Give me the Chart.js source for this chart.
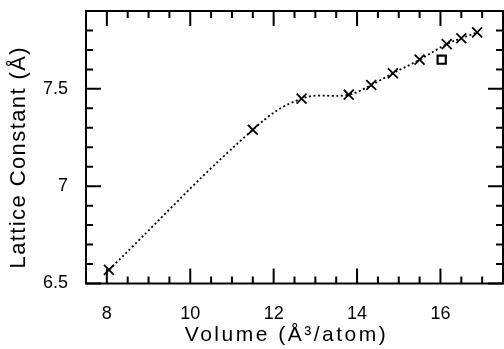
<!DOCTYPE html>
<html lang="en">
<head>
<meta charset="UTF-8">
<title>Lattice Constant vs Volume</title>
<script src="https://cdn.jsdelivr.net/npm/chart.js"></script>
<style>
  html, body { margin: 0; padding: 0; background: #fff; }
</style>
</head>
<body>
<canvas id="latticeChart" width="504" height="349"></canvas>
<script>
// calculated points (crosses)
const volumes = [8.05, 11.5, 12.67, 13.8, 14.34, 14.86, 15.5, 16.15, 16.5, 16.88];
const latticeConsts = [6.57, 7.29, 7.45, 7.47, 7.52, 7.58, 7.65, 7.73, 7.76, 7.79];
// experimental point (open square)
const exptVolumes = [16.03];
const exptLattice = [7.65];
// labelled ticks, everything else is a minor tick
const xLabels = [8, 10, 12, 14, 16];
const yLabels = [6.5, 7, 7.5];

const FONT = '"Liberation Sans", Arial, Helvetica, sans-serif';

function inList(list, v) {
    return list.some(l => Math.abs(l - v) < 1e-6);
}

// the original axis titles are set with wide letter spacing and sit a bit off centre
function spaceTitle(scale, spacing, dx, dy) {
    if (scale._spacedTitle) return;
    scale._spacedTitle = true;
    const orig = scale.drawTitle;
    scale.drawTitle = function () {
        const ctx = this.ctx;
        ctx.save();
        ctx.letterSpacing = spacing;
        ctx.translate(dx, dy);
        orig.call(this);
        ctx.restore();
    };
}

// frame + inward ticks on all four sides
const innerTicks = {
    id: 'innerTicks',
    beforeDraw(chart) {
        spaceTitle(chart.scales.x, '2.5px', -8, 0);
        spaceTitle(chart.scales.y, '1.4px', 0, 10);
    },
    afterDraw(chart) {
        const { ctx, chartArea: a, scales: { x, y } } = chart;
        ctx.save();
        ctx.strokeStyle = '#000';
        ctx.lineWidth = 2;
        ctx.strokeRect(a.left, a.top, a.right - a.left, a.bottom - a.top);
        ctx.beginPath();
        x.ticks.forEach(t => {
            const px = x.getPixelForValue(t.value);
            const len = inList(xLabels, t.value) ? 15 : 7;
            ctx.moveTo(px, a.bottom); ctx.lineTo(px, a.bottom - len);
            ctx.moveTo(px, a.top); ctx.lineTo(px, a.top + len);
        });
        y.ticks.forEach(t => {
            const py = y.getPixelForValue(t.value);
            const len = inList(yLabels, t.value) ? 15 : 7;
            ctx.moveTo(a.left, py); ctx.lineTo(a.left + len, py);
            ctx.moveTo(a.right, py); ctx.lineTo(a.right - len, py);
        });
        ctx.stroke();
        ctx.restore();
    }
};

new Chart(document.getElementById("latticeChart"), {
    type: "scatter",
    data: {
        datasets: [
            {
                data: volumes.map((v, i) => ({ x: v, y: latticeConsts[i] })),
                showLine: true,
                tension: 0.4,
                borderColor: "#000",
                borderWidth: 1.8,
                borderDash: [2, 2.6],
                pointStyle: "crossRot",
                pointRadius: 7,
                pointBorderWidth: 1.8,
                pointBorderColor: "#000",
                pointBackgroundColor: "#000"
            },
            {
                data: exptVolumes.map((v, i) => ({ x: v, y: exptLattice[i] })),
                showLine: false,
                pointStyle: "rect",
                pointRadius: 5.8,
                pointBorderWidth: 2.2,
                pointBorderColor: "#000",
                pointBackgroundColor: "rgba(0,0,0,0)"
            }
        ]
    },
    options: {
        responsive: false,
        animation: false,
        layout: { autoPadding: false, padding: { top: 11, right: 1, left: 0, bottom: 0 } },
        plugins: {
            legend: { display: false },
            tooltip: { enabled: false }
        },
        scales: {
            x: {
                type: "linear",
                min: 7.5,
                max: 17.5,
                grid: { display: false, drawTicks: false },
                border: { display: false },
                ticks: {
                    stepSize: 0.5,
                    autoSkip: false,
                    maxRotation: 0,
                    padding: 20,
                    color: "#000",
                    font: { family: FONT, size: 18 },
                    callback: v => inList(xLabels, v) ? String(Math.round(v)) : ""
                },
                title: {
                    display: true,
                    text: "Volume (Å³/atom)",
                    color: "#000",
                    font: { family: FONT, size: 21 },
                    padding: { top: 0, bottom: 1 }
                },
                afterFit: s => {
                    s.height = 65.5;
                    s.paddingLeft = 0;
                    s.paddingRight = 0;
                }
            },
            y: {
                min: 6.5,
                max: 7.9,
                grid: { display: false, drawTicks: false },
                border: { display: false },
                ticks: {
                    stepSize: 0.1,
                    autoSkip: false,
                    padding: 18,
                    color: "#000",
                    font: { family: FONT, size: 18 },
                    callback: v => inList(yLabels, v) ? String(Math.round(v * 10) / 10) : ""
                },
                title: {
                    display: true,
                    text: "Lattice Constant (Å)",
                    color: "#000",
                    font: { family: FONT, size: 22 },
                    padding: { top: 6, bottom: 0 }
                },
                afterFit: s => {
                    s.width = 86;
                    s.paddingTop = 0;
                    s.paddingBottom = 0;
                }
            }
        }
    },
    plugins: [innerTicks]
});
</script>
</body>
</html>
